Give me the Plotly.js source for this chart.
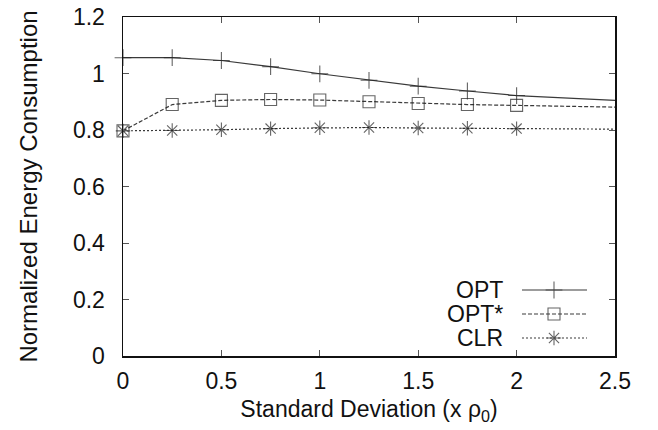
<!DOCTYPE html>
<html>
<head>
<meta charset="utf-8">
<script src="https://cdn.plot.ly/plotly-3.0.1.min.js"></script>
<style>html,body{margin:0;padding:0;background:#fff;}#chart{width:658px;height:430px;}</style>
</head>
<body>
<div id="chart"></div>
<script>
// ---- data ----
var stdDev   = [0, 0.25, 0.5, 0.75, 1.0, 1.25, 1.5, 1.75, 2.0, 2.5];
var optVals  = [1.056, 1.056, 1.046, 1.024, 0.999, 0.976, 0.955, 0.938, 0.922, 0.905];
var optsVals = [0.797, 0.890, 0.905, 0.908, 0.906, 0.900, 0.894, 0.890, 0.887, 0.881];
var clrVals  = [0.797, 0.798, 0.801, 0.805, 0.808, 0.809, 0.807, 0.806, 0.805, 0.803];
var seriesNames = ['OPT', 'OPT*', 'CLR'];
var xTickVals = [0, 0.5, 1, 1.5, 2, 2.5];
var xTickText = ['0', '0.5', '1', '1.5', '2', '2.5'];
var yTickVals = [0, 0.2, 0.4, 0.6, 0.8, 1, 1.2];
var yTickText = ['0', '0.2', '0.4', '0.6', '0.8', '1', '1.2'];

// ---- styles ----
var FONT = 'Liberation Sans, Arial, Helvetica, sans-serif';
var lineColor = '#3a3a3a';
var markColor = '#222';
var styles = [
  {dash: 'solid',      symbol: 'cross-thin-open', size: 12},
  {dash: '4px,2px',    symbol: 'square-open',     size: 12},
  {dash: '2px,2px',    symbol: 'asterisk-open',   size: 12}
];
var allVals = [optVals, optsVals, clrVals];
// markers only drawn up to x = 2
function sizesFor(sz){ return stdDev.map(function(x){ return x <= 2.0001 ? sz : 0; }); }

var traces = allVals.map(function(vals, i){
  return {
    x: stdDev, y: vals, type: 'scatter', mode: 'lines+markers',
    name: seriesNames[i], showlegend: false, cliponaxis: false,
    line: {color: lineColor, width: 1.2, dash: styles[i].dash},
    marker: {symbol: styles[i].symbol, size: sizesFor(styles[i].size), color: markColor,
             line: {color: markColor, width: 1.1}}
  };
});

// ---- custom gnuplot-style legend (text left, sample right) ----
var legRows = [290, 314, 338];         // pixel rows in figure
var legX0 = 522, legX1 = 587, legMid = 554, legTextRight = 505;
var W = 658, H = 430;
var shapes = [], annotations = [];
seriesNames.forEach(function(n, i){
  shapes.push({type: 'line', xref: 'paper', yref: 'paper',
    x0: (legX0 - 123) / 492, x1: (legX1 - 123) / 492,
    y0: (356 - legRows[i]) / 339, y1: (356 - legRows[i]) / 339,
    line: {color: lineColor, width: 1.2, dash: styles[i].dash}});
  annotations.push({xref: 'paper', yref: 'paper', x: (legTextRight - 123) / 492,
    y: (356 - legRows[i]) / 339, xanchor: 'right', yanchor: 'middle', showarrow: false,
    text: n, font: {family: FONT, size: 23, color: '#111'}});
});
traces.push({
  x: legRows.map(function(){ return (legMid - 123) / 492; }),
  y: legRows.map(function(r){ return (356 - r) / 339; }),
  xaxis: 'x2', yaxis: 'y2', type: 'scatter', mode: 'markers', showlegend: false,
  hoverinfo: 'skip', cliponaxis: false,
  marker: {symbol: styles.map(function(s){ return s.symbol; }),
           size: styles.map(function(s){ return s.size; }),
           color: markColor, line: {color: markColor, width: 1.1}}
});

var layout = {
  width: W, height: H,
  margin: {l: 123, r: 43, t: 17, b: 74},
  paper_bgcolor: '#fff', plot_bgcolor: '#fff',
  font: {family: FONT, size: 23, color: '#111'},
  showlegend: false,
  xaxis: {
    range: [0, 2.5], tickvals: xTickVals, ticktext: xTickText,
    ticks: 'inside', ticklen: 6, tickcolor: '#555', tickwidth: 1,
    showline: true, linecolor: '#111', linewidth: 1.5, mirror: 'ticks',
    showgrid: false, zeroline: false, ticklabelstandoff: 4,
    tickfont: {family: FONT, size: 23, color: '#111'},
    title: {text: 'Standard Deviation (x ρ<sub>0</sub>)', font: {family: FONT, size: 23, color: '#111'}, standoff: 8}
  },
  yaxis: {
    range: [0, 1.2], tickvals: yTickVals, ticktext: yTickText,
    ticks: 'inside', ticklen: 6, tickcolor: '#555', tickwidth: 1,
    showline: true, linecolor: '#111', linewidth: 1.5, mirror: 'ticks',
    showgrid: false, zeroline: false, ticklabelstandoff: 12,
    tickfont: {family: FONT, size: 23, color: '#111'},
    title: {text: 'Normalized Energy Consumption', font: {family: FONT, size: 24, color: '#111'}, standoff: 28}
  },
  xaxis2: {overlaying: 'x', range: [0, 1], visible: false, fixedrange: true},
  yaxis2: {overlaying: 'y', range: [0, 1], visible: false, fixedrange: true},
  shapes: shapes,
  annotations: annotations
};

Plotly.newPlot('chart', traces, layout, {staticPlot: true, displayModeBar: false});
</script>
</body>
</html>
